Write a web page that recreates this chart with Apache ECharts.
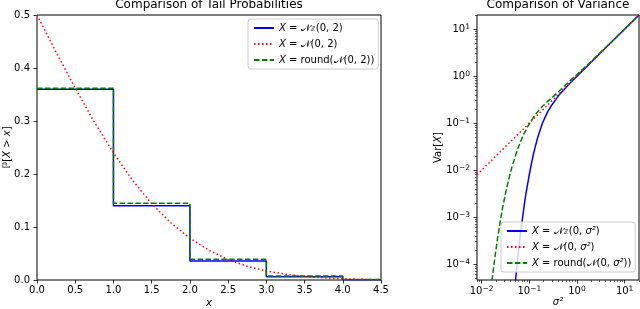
<!DOCTYPE html>
<html><head><meta charset="utf-8">
<script src="https://cdn.jsdelivr.net/npm/echarts@6/dist/echarts.min.js"></script>
<style>html,body{margin:0;padding:0;background:#fff}#c{width:640px;height:309px}</style>
</head><body><div id="c"></div>
<script>
// ---- Left panel: tail probabilities P[X > x] ----
const tailSteps     = [0, 1, 2, 3, 4, 4.5];
const tailDiscrete  = [0.360, 0.140, 0.036, 0.0060, 0.0006, 0.0006];
const tailRounded   = [0.362, 0.145, 0.039, 0.0075, 0.0008, 0.0008];
const tailContX     = [0, 0.25, 0.5, 0.75, 1, 1.25, 1.5, 1.75, 2, 2.25, 2.5, 2.75, 3, 3.25, 3.5, 3.75, 4, 4.25, 4.5];
const tailCont      = [0.5, 0.430, 0.362, 0.298, 0.240, 0.188, 0.144, 0.108, 0.079, 0.056, 0.0385, 0.026, 0.017, 0.011, 0.0067, 0.0040, 0.0023, 0.0013, 0.0007];

// ---- Right panel: variance vs sigma^2 ----
const varNormX      = [0.008, 0.01, 0.1, 1, 10, 20];
const varNorm       = [0.008, 0.01, 0.1, 1, 10, 20];
const varDiscX      = [0.0495, 0.055, 0.06, 0.066, 0.071, 0.077, 0.082, 0.088, 0.099, 0.11, 0.121, 0.132, 0.148, 0.165, 0.19, 0.22, 0.245, 0.275, 0.30, 0.33, 0.37, 0.42, 0.52, 0.7, 1, 2, 5, 20];
const varDisc       = [2.98e-5, 9.1e-5, 2.1e-4, 4.8e-4, 8.5e-4, 1.58e-3, 2.5e-3, 3.85e-3, 7.6e-3, 0.0133, 0.021, 0.0301, 0.047, 0.0666, 0.102, 0.141, 0.178, 0.215, 0.247, 0.281, 0.332, 0.395, 0.499, 0.7, 1, 2, 5, 20];
const varRoundX     = [0.0165, 0.0176, 0.0198, 0.022, 0.0248, 0.0275, 0.033, 0.0385, 0.044, 0.055, 0.066, 0.077, 0.088, 0.11, 0.143, 0.187, 0.242, 0.33, 0.44, 0.65, 1, 2, 5, 20];
const varRound      = [4.46e-5, 7.7e-5, 1.9e-4, 4.07e-4, 8.6e-4, 1.57e-3, 3.9e-3, 7.5e-3, 0.0124, 0.0253, 0.0412, 0.059, 0.077, 0.114, 0.166, 0.226, 0.29, 0.38, 0.5, 0.73, 1.083, 2.083, 5.083, 20.08];

// ---- ticks ----
const tailXTicks    = [0, 0.5, 1, 1.5, 2, 2.5, 3, 3.5, 4, 4.5];
const varXMajor     = [0.01, 0.1, 1, 10];
const varYMajor     = [1e-4, 1e-3, 1e-2, 1e-1, 1, 10];
const varXRange     = [0.008, 20];
const varYRange     = [4.6e-5, 20];

function minorTicks(lo, hi) {
  const out = [];
  for (let e = -6; e <= 2; e++) {
    for (let m = 2; m <= 9; m++) {
      const v = m * Math.pow(10, e);
      if (v >= lo * 0.999 && v <= hi * 1.001) out.push(v);
    }
  }
  return out;
}
const zip = (xs, ys) => xs.map((x, i) => [x, ys[i]]);
function logLabel(v) {
  const e = Math.round(Math.log10(v));
  return '10{sup|' + (e < 0 ? '−' + (-e) : String(e)) + '}';
}

const FONT = 'DejaVu Sans';
const NC = '\u{1D4A9}';
const richStyles = {
  i: {fontStyle: 'italic', fontSize: 10, fontFamily: FONT, color: '#000'},
  s: {fontSize: 7, fontFamily: FONT, color: '#000', verticalAlign: 'bottom', lineHeight: 9}
};
const supRich = {
  sup: {fontSize: 7.5, fontFamily: FONT, color: '#000', verticalAlign: 'top', lineHeight: 7}
};
const legendLabels = {
  nz: '{i|X} = ' + NC + '{s|ℤ}(0, 2)',
  n:  '{i|X} = ' + NC + '(0, 2)',
  rn: '{i|X} = round(' + NC + '(0, 2))',
  vz: '{i|X} = ' + NC + '{s|ℤ}(0, {i|σ²})',
  vn: '{i|X} = ' + NC + '(0, {i|σ²})',
  vr: '{i|X} = round(' + NC + '(0, {i|σ²}))'
};

const tickStyle = {show: true, length: 3.5, inside: false, lineStyle: {color: '#000', width: 0.8}};
const labelStyle = {color: '#000', fontSize: 10, fontFamily: FONT};
const nameStyle = {color: '#000', fontSize: 10, fontFamily: FONT, rich: richStyles};
const legendBase = {
  orient: 'vertical', itemWidth: 20, itemHeight: 12, itemGap: 6,
  backgroundColor: 'rgba(255,255,255,0.8)', borderColor: '#cccccc', borderWidth: 1, borderRadius: 3,
  padding: [4, 4, 4, 5],
  itemStyle: {color: 'rgba(0,0,0,0)', borderWidth: 0, opacity: 0},
  formatter: name => legendLabels[name],
  textStyle: {color: '#000', fontSize: 10, fontFamily: FONT, rich: richStyles}
};
const gridBase = {show: true, borderColor: '#000', borderWidth: 1, backgroundColor: 'transparent',
  containLabel: false, outerBoundsMode: 'none'};

const chart = echarts.init(document.getElementById('c'), null, {renderer: 'canvas'});
chart.setOption({
  animation: false,
  backgroundColor: '#fff',
  title: [
    {text: 'Comparison of Tail Probabilities', left: 209, top: -1, textAlign: 'center', padding: 0,
     textStyle: {fontSize: 12, fontWeight: 'normal', color: '#000', fontFamily: FONT}},
    {text: 'Comparison of Variance', left: 558, top: -1, textAlign: 'center', padding: 0,
     textStyle: {fontSize: 12, fontWeight: 'normal', color: '#000', fontFamily: FONT}}
  ],
  grid: [
    Object.assign({left: 37, top: 15, width: 344, height: 265}, gridBase),
    Object.assign({left: 477, top: 15, width: 162, height: 265}, gridBase)
  ],
  xAxis: [
    {type: 'value', gridIndex: 0, min: 0, max: 4.5, interval: 0.5,
     axisLine: {show: false}, axisTick: tickStyle, splitLine: {show: false},
     axisLabel: Object.assign({margin: 5, formatter: v => v.toFixed(1), customValues: tailXTicks}, labelStyle),
     name: '{i|x}', nameLocation: 'middle', nameGap: 18, nameMoveOverlap: false, nameTextStyle: nameStyle},
    {type: 'log', gridIndex: 1, min: varXRange[0], max: varXRange[1], logBase: 10,
     axisLine: {show: false, onZero: false}, splitLine: {show: false},
     axisTick: Object.assign({customValues: varXMajor}, tickStyle),
     axisLabel: Object.assign({margin: 5, formatter: logLabel, customValues: varXMajor, rich: supRich, lineHeight: 13}, labelStyle),
     name: '{i|σ²}', nameLocation: 'middle', nameGap: 17, nameMoveOverlap: false, nameTextStyle: nameStyle},
    {type: 'log', gridIndex: 1, min: varXRange[0], max: varXRange[1], logBase: 10, position: 'bottom',
     axisLine: {show: false, onZero: false}, splitLine: {show: false}, axisLabel: {show: false},
     axisTick: {show: true, length: 2, customValues: minorTicks(varXRange[0], varXRange[1]), lineStyle: {color: '#000', width: 0.6}}}
  ],
  yAxis: [
    {type: 'value', gridIndex: 0, min: 0, max: 0.5, interval: 0.1,
     axisLine: {show: false}, axisTick: tickStyle, splitLine: {show: false},
     axisLabel: Object.assign({margin: 7, formatter: v => v.toFixed(1)}, labelStyle),
     name: 'ℙ[{i|X} > {i|x}]', nameLocation: 'middle', nameGap: 25, nameMoveOverlap: false, nameTextStyle: nameStyle},
    {type: 'log', gridIndex: 1, min: varYRange[0], max: varYRange[1], logBase: 10,
     axisLine: {show: false, onZero: false}, splitLine: {show: false},
     axisTick: Object.assign({customValues: varYMajor}, tickStyle),
     axisLabel: Object.assign({margin: 7, formatter: logLabel, customValues: varYMajor, rich: supRich, lineHeight: 13}, labelStyle),
     name: 'Var[{i|X}]', nameLocation: 'middle', nameGap: 34, nameMoveOverlap: false, nameTextStyle: nameStyle},
    {type: 'log', gridIndex: 1, min: varYRange[0], max: varYRange[1], logBase: 10, position: 'left',
     axisLine: {show: false, onZero: false}, splitLine: {show: false}, axisLabel: {show: false},
     axisTick: {show: true, length: 2, customValues: minorTicks(varYRange[0], varYRange[1]), lineStyle: {color: '#000', width: 0.6}}}
  ],
  legend: [
    Object.assign({left: 248, top: 19, data: ['nz', 'n', 'rn']}, legendBase),
    Object.assign({left: 501, top: 222, data: ['vz', 'vn', 'vr']}, legendBase)
  ],
  series: [
    {name: 'nz', type: 'line', xAxisIndex: 0, yAxisIndex: 0, step: 'end', symbol: 'none',
     data: zip(tailSteps, tailDiscrete), color: '#0000ff', lineStyle: {color: '#0000ff', width: 1.5}},
    {name: 'n', type: 'line', xAxisIndex: 0, yAxisIndex: 0, symbol: 'none',
     data: zip(tailContX, tailCont), color: '#ff0000', lineStyle: {color: '#ff0000', width: 1.5, type: [1.5, 2.5]}},
    {name: 'rn', type: 'line', xAxisIndex: 0, yAxisIndex: 0, step: 'end', symbol: 'none',
     data: zip(tailSteps, tailRounded), color: '#008000', lineStyle: {color: '#008000', width: 1.5, type: [5.5, 2.4]}},
    {name: 'vz', type: 'line', xAxisIndex: 1, yAxisIndex: 1, symbol: 'none',
     data: zip(varDiscX, varDisc), color: '#0000ff', lineStyle: {color: '#0000ff', width: 1.5}},
    {name: 'vn', type: 'line', xAxisIndex: 1, yAxisIndex: 1, symbol: 'none',
     data: zip(varNormX, varNorm), color: '#ff0000', lineStyle: {color: '#ff0000', width: 1.5, type: [1.5, 2.5]}},
    {name: 'vr', type: 'line', xAxisIndex: 1, yAxisIndex: 1, symbol: 'none',
     data: zip(varRoundX, varRound), color: '#008000', lineStyle: {color: '#008000', width: 1.5, type: [5.5, 2.4]}}
  ]
});
</script></body></html>
